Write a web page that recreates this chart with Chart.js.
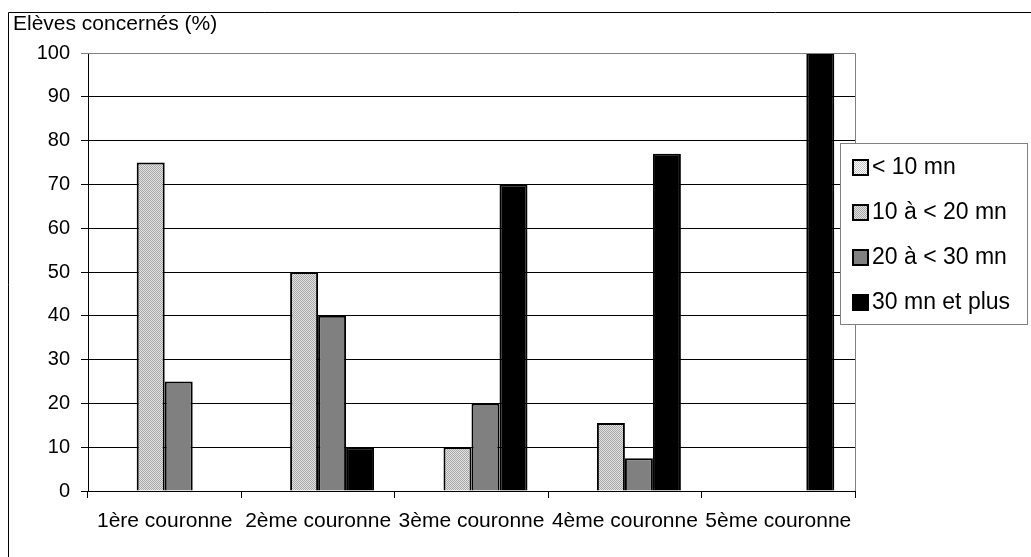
<!DOCTYPE html>
<html>
<head>
<meta charset="utf-8">
<script src="https://cdn.jsdelivr.net/npm/chart.js@4.4.1/dist/chart.umd.min.js"></script>
<style>
  html, body { margin: 0; padding: 0; background: #fff; }
  #wrap { position: relative; width: 1031px; height: 557px; }
</style>
</head>
<body>
<div id="wrap"><canvas id="travel-chart" width="1031" height="557"></canvas></div>
<script>
const categories = ["1ère couronne", "2ème couronne", "3ème couronne", "4ème couronne", "5ème couronne"];
const seriesLabels = ["< 10 mn", "10 à < 20 mn", "20 à < 30 mn", "30 mn et plus"];
const lessThan10 = [0, 0, 0, 0, 0];
const from10to20 = [75, 50, 10, 15.5, 0];
const from20to30 = [25, 40, 20, 7.5, 0];
const over30 = [0, 10, 70, 77, 100];
const yMin = 0, yMax = 100, yStep = 10;
const yTitle = "Elèves concernés (%)";

const FONT = "'Liberation Sans', Arial, sans-serif";

// little checker patterns to mimic the old excel fills
function makePattern(c1, c2){
    const p = document.createElement("canvas");
    p.width = 2; p.height = 2;
    const pc = p.getContext("2d");
    pc.fillStyle = c1; pc.fillRect(0, 0, 2, 2);
    pc.fillStyle = c2; pc.fillRect(0, 0, 1, 1); pc.fillRect(1, 1, 1, 1);
    return pc.createPattern(p, "repeat");
}

const fills = [
    makePattern("#ffffff", "#c4c4c4"),
    makePattern("#e2e2e2", "#a8a8a8"),
    "#808080",
    "#000000"
];
const seriesData = [lessThan10, from10to20, from20to30, over30];

const framePlugin = {
    id: "frame",
    beforeDraw(chart){
        const c = chart.ctx;
        c.save();
        c.fillStyle = "#fff";
        c.fillRect(0, 0, chart.width, chart.height);
        c.strokeStyle = "#000";
        c.lineWidth = 1;
        c.beginPath();
        c.moveTo(8.5, chart.height);
        c.lineTo(8.5, 12.5);
        c.lineTo(chart.width, 12.5);
        c.stroke();
        c.font = "21px " + FONT;
        c.fillStyle = "#000";
        c.textBaseline = "alphabetic";
        c.fillText(yTitle, 13, 30);
        c.restore();
    },
    afterDatasetsDraw(chart){
        const a = chart.chartArea;
        const c = chart.ctx;
        c.save();
        c.strokeStyle = "#808080";
        c.lineWidth = 1;
        c.beginPath();
        c.moveTo(a.left, a.top + 0.5);
        c.lineTo(a.right + 0.5, a.top + 0.5);
        c.lineTo(a.right + 0.5, a.bottom);
        c.stroke();
        c.restore();
    },
    afterDraw(chart){
        const c = chart.ctx;
        const bx = 840, by = 143, bw = 187, bh = 181;
        c.save();
        c.fillStyle = "#fff";
        c.fillRect(bx, by, bw, bh);
        c.strokeStyle = "#808080";
        c.lineWidth = 1;
        c.strokeRect(bx + 0.5, by + 0.5, bw, bh);
        c.font = "23px " + FONT;
        c.textBaseline = "middle";
        chart.data.datasets.forEach((ds, i) => {
            const cy = 167 + i * 45;
            c.fillStyle = ds.backgroundColor;
            c.fillRect(853, cy - 7, 15, 15);
            c.strokeStyle = "#000";
            c.lineWidth = 2;
            c.strokeRect(853, cy - 7, 15, 15);
            c.fillStyle = "#000";
            c.fillText(ds.label, 872, cy + 1);
        });
        c.restore();
    }
};

new Chart(document.querySelector("#travel-chart"), {
    type: "bar",
    data: {
        labels: categories,
        datasets: seriesLabels.map((label, i) => ({
            label: label,
            data: seriesData[i],
            backgroundColor: fills[i],
            borderColor: "#000",
            borderWidth: 2,
            barPercentage: 1,
            categoryPercentage: 0.73
        }))
    },
    options: {
        responsive: false,
        animation: false,
        layout: { padding: { left: 0, top: 53, right: 176, bottom: 0 } },
        plugins: {
            legend: { display: false },
            tooltip: { enabled: false }
        },
        scales: {
            x: {
                offset: true,
                grid: { offset: true, drawOnChartArea: false, drawTicks: true, tickLength: 7, color: "#000" },
                border: { color: "#000", width: 1 },
                ticks: { color: "#000", font: { family: FONT, size: 21 }, padding: 11, maxRotation: 0 },
                afterFit: s => { s.height = 66; }
            },
            y: {
                min: yMin,
                max: yMax,
                ticks: { stepSize: yStep, color: "#000", font: { family: FONT, size: 20 }, padding: 11 },
                grid: {
                    color: ctx => ctx.tick && ctx.tick.value === yMax ? "#808080" : "#000",
                    tickLength: 7,
                    lineWidth: 1
                },
                border: { color: "#000", width: 1 },
                afterFit: s => { s.width = 88; }
            }
        }
    },
    plugins: [framePlugin]
});
</script>
</body>
</html>
